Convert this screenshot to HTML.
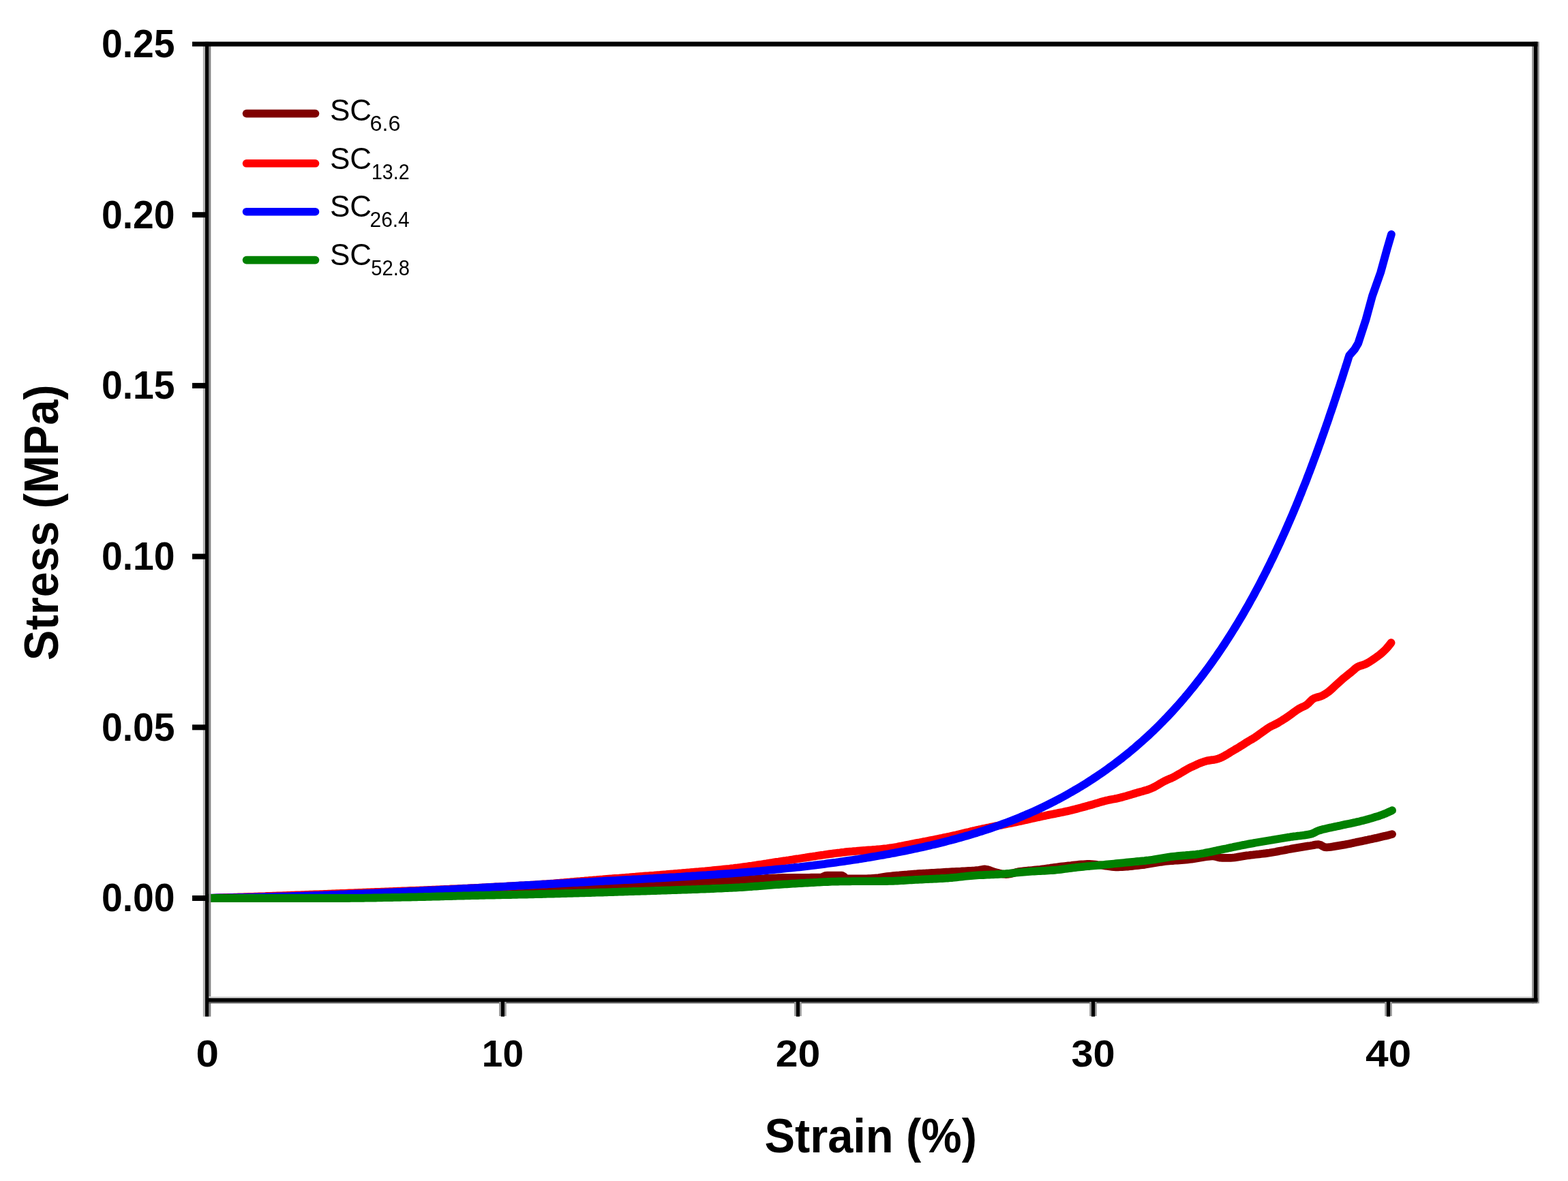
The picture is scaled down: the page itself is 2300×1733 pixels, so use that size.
<!DOCTYPE html>
<html><head><meta charset="utf-8"><title>Stress vs Strain</title>
<style>html,body{margin:0;padding:0;background:#fff;overflow:hidden;}svg{display:block;}</style>
</head><body>
<svg width="2300" height="1733" viewBox="0 0 2300 1733"><rect x="0" y="0" width="2300" height="1733" fill="#fff"/><g fill="none" stroke-width="11.8" stroke-linejoin="round" stroke-linecap="round"><path d="M305.0,1318.0 L308.0,1318.0 L311.0,1317.9 L314.0,1317.9 L317.0,1317.8 L320.0,1317.8 L323.0,1317.7 L326.0,1317.7 L329.0,1317.6 L332.0,1317.6 L335.0,1317.5 L338.0,1317.4 L341.0,1317.4 L344.0,1317.3 L347.0,1317.3 L350.0,1317.2 L353.0,1317.2 L356.0,1317.1 L359.0,1317.1 L362.0,1317.0 L365.0,1317.0 L368.0,1316.9 L371.0,1316.8 L374.0,1316.8 L377.0,1316.7 L380.0,1316.7 L383.0,1316.6 L386.0,1316.5 L389.0,1316.5 L392.0,1316.4 L395.0,1316.4 L398.0,1316.3 L401.0,1316.2 L404.0,1316.2 L407.0,1316.1 L410.0,1316.1 L413.0,1316.0 L416.0,1315.9 L419.0,1315.9 L422.0,1315.8 L425.0,1315.7 L428.0,1315.7 L431.0,1315.6 L434.0,1315.5 L437.0,1315.5 L440.0,1315.4 L443.0,1315.3 L446.0,1315.3 L449.0,1315.2 L452.0,1315.1 L455.0,1315.1 L458.0,1315.0 L461.0,1314.9 L464.0,1314.9 L467.0,1314.8 L470.0,1314.7 L473.0,1314.6 L476.0,1314.6 L479.0,1314.5 L482.0,1314.4 L485.0,1314.4 L488.0,1314.3 L491.0,1314.2 L494.0,1314.1 L497.0,1314.1 L500.0,1314.0 L503.0,1313.9 L506.0,1313.9 L509.0,1313.8 L512.0,1313.7 L515.0,1313.6 L518.0,1313.6 L521.0,1313.5 L524.0,1313.4 L527.0,1313.3 L530.0,1313.2 L533.0,1313.2 L536.0,1313.1 L539.0,1313.0 L542.0,1312.9 L545.0,1312.8 L548.0,1312.8 L551.0,1312.7 L554.0,1312.6 L557.0,1312.5 L560.0,1312.4 L563.0,1312.3 L566.0,1312.3 L569.0,1312.2 L572.0,1312.1 L575.0,1312.0 L578.0,1311.9 L581.0,1311.8 L584.0,1311.7 L587.0,1311.6 L590.0,1311.6 L593.0,1311.5 L596.0,1311.4 L599.0,1311.3 L602.0,1311.2 L605.0,1311.1 L608.0,1311.0 L611.0,1310.9 L614.0,1310.8 L617.0,1310.7 L620.0,1310.6 L623.0,1310.5 L626.0,1310.4 L629.0,1310.4 L632.0,1310.3 L635.0,1310.2 L638.0,1310.1 L641.0,1310.0 L644.0,1309.9 L647.0,1309.8 L650.0,1309.7 L653.0,1309.6 L656.0,1309.5 L659.0,1309.4 L662.0,1309.3 L665.0,1309.2 L668.0,1309.1 L671.0,1309.0 L674.0,1308.9 L677.0,1308.8 L680.0,1308.7 L683.0,1308.6 L686.0,1308.5 L689.0,1308.4 L692.0,1308.3 L695.0,1308.2 L698.0,1308.1 L701.0,1308.0 L704.0,1307.9 L707.0,1307.8 L710.0,1307.7 L713.0,1307.5 L716.0,1307.4 L719.0,1307.3 L722.0,1307.2 L725.0,1307.1 L728.0,1307.0 L731.0,1306.9 L734.0,1306.8 L737.0,1306.7 L740.0,1306.6 L743.0,1306.4 L746.0,1306.3 L749.0,1306.2 L752.0,1306.1 L755.0,1306.0 L758.0,1305.9 L761.0,1305.7 L764.0,1305.6 L767.0,1305.5 L770.0,1305.4 L773.0,1305.3 L776.0,1305.2 L779.0,1305.0 L782.0,1304.9 L785.0,1304.8 L788.0,1304.7 L791.0,1304.5 L794.0,1304.4 L797.0,1304.3 L800.0,1304.2 L803.0,1304.1 L806.0,1303.9 L809.0,1303.8 L812.0,1303.7 L815.0,1303.6 L818.0,1303.4 L821.0,1303.3 L824.0,1303.2 L827.0,1303.1 L830.0,1302.9 L833.0,1302.8 L836.0,1302.7 L839.0,1302.5 L842.0,1302.4 L845.0,1302.3 L848.0,1302.2 L851.0,1302.0 L854.0,1301.9 L857.0,1301.8 L860.0,1301.7 L863.0,1301.5 L866.0,1301.4 L869.0,1301.3 L872.0,1301.1 L875.0,1301.0 L878.0,1300.9 L881.0,1300.8 L884.0,1300.6 L887.0,1300.5 L890.0,1300.4 L893.0,1300.2 L896.0,1300.1 L899.0,1300.0 L902.0,1299.9 L905.0,1299.7 L908.0,1299.6 L911.0,1299.5 L914.0,1299.3 L917.0,1299.2 L920.0,1299.1 L923.0,1299.0 L926.0,1298.8 L929.0,1298.7 L932.0,1298.6 L935.0,1298.4 L938.0,1298.3 L941.0,1298.2 L944.0,1298.0 L947.0,1297.9 L950.0,1297.8 L953.0,1297.7 L956.0,1297.5 L959.0,1297.4 L962.0,1297.3 L965.0,1297.1 L968.0,1297.0 L971.0,1296.9 L974.0,1296.7 L977.0,1296.6 L980.0,1296.5 L983.0,1296.3 L986.0,1296.2 L989.0,1296.1 L992.0,1295.9 L995.0,1295.8 L998.0,1295.6 L1001.0,1295.5 L1004.0,1295.4 L1007.0,1295.2 L1010.0,1295.1 L1013.0,1295.0 L1016.0,1294.8 L1019.0,1294.7 L1022.0,1294.5 L1025.0,1294.4 L1028.0,1294.3 L1031.0,1294.1 L1034.0,1294.0 L1037.0,1293.8 L1040.0,1293.7 L1043.0,1293.6 L1046.0,1293.4 L1049.0,1293.3 L1052.0,1293.1 L1055.0,1293.0 L1058.0,1292.8 L1061.0,1292.7 L1064.0,1292.5 L1067.0,1292.4 L1070.0,1292.2 L1073.0,1292.1 L1076.0,1291.9 L1079.0,1291.8 L1082.0,1291.6 L1085.0,1291.5 L1088.0,1291.3 L1091.0,1291.1 L1094.0,1290.9 L1097.0,1290.7 L1100.0,1290.5 L1103.0,1290.3 L1106.0,1290.1 L1109.0,1289.9 L1112.0,1289.7 L1115.0,1289.5 L1118.0,1289.3 L1121.0,1289.2 L1124.0,1289.0 L1127.0,1288.8 L1130.0,1288.7 L1133.0,1288.5 L1136.0,1288.4 L1139.0,1288.3 L1142.0,1288.2 L1145.0,1288.1 L1148.0,1288.0 L1151.0,1288.0 L1154.0,1287.9 L1157.0,1287.9 L1160.0,1287.9 L1163.0,1287.9 L1166.0,1287.9 L1169.0,1287.8 L1172.0,1287.8 L1175.0,1287.8 L1178.0,1287.8 L1181.0,1287.8 L1184.0,1287.8 L1187.0,1287.8 L1190.0,1287.7 L1193.0,1287.7 L1196.0,1287.7 L1199.0,1287.6 L1202.0,1287.6 L1205.0,1287.5 L1208.0,1286.3 L1211.0,1284.8 L1214.0,1284.6 L1217.0,1284.6 L1220.0,1284.6 L1223.0,1284.6 L1226.0,1284.6 L1229.0,1284.6 L1232.0,1284.6 L1235.0,1284.6 L1238.0,1286.3 L1241.0,1289.5 L1244.0,1289.5 L1247.0,1289.5 L1250.0,1289.5 L1253.0,1289.5 L1256.0,1289.5 L1259.0,1289.5 L1262.0,1289.5 L1265.0,1289.5 L1268.0,1289.4 L1271.0,1289.3 L1274.0,1289.2 L1277.0,1289.1 L1280.0,1288.9 L1283.0,1288.7 L1286.0,1288.5 L1289.0,1288.1 L1292.0,1287.6 L1295.0,1287.1 L1298.0,1286.6 L1301.0,1286.2 L1304.0,1285.8 L1307.0,1285.5 L1310.0,1285.2 L1313.0,1284.9 L1316.0,1284.6 L1319.0,1284.4 L1322.0,1284.1 L1325.0,1283.8 L1328.0,1283.6 L1331.0,1283.4 L1334.0,1283.1 L1337.0,1282.9 L1340.0,1282.7 L1343.0,1282.5 L1346.0,1282.2 L1349.0,1282.0 L1352.0,1281.8 L1355.0,1281.6 L1358.0,1281.5 L1361.0,1281.3 L1364.0,1281.1 L1367.0,1280.9 L1370.0,1280.8 L1373.0,1280.6 L1376.0,1280.4 L1379.0,1280.3 L1382.0,1280.1 L1385.0,1279.9 L1388.0,1279.7 L1391.0,1279.6 L1394.0,1279.4 L1397.0,1279.2 L1400.0,1279.1 L1403.0,1278.9 L1406.0,1278.8 L1409.0,1278.7 L1412.0,1278.5 L1415.0,1278.4 L1418.0,1278.2 L1421.0,1278.0 L1424.0,1277.8 L1427.0,1277.6 L1430.0,1277.4 L1433.0,1277.1 L1436.0,1276.9 L1439.0,1276.3 L1442.0,1275.7 L1445.0,1275.5 L1448.0,1276.0 L1451.0,1276.9 L1454.0,1278.0 L1457.0,1279.1 L1460.0,1280.0 L1463.0,1280.7 L1466.0,1281.5 L1469.0,1282.2 L1472.0,1282.7 L1475.0,1283.0 L1478.0,1282.9 L1481.0,1282.5 L1484.0,1281.7 L1487.0,1280.9 L1490.0,1280.1 L1493.0,1279.4 L1496.0,1278.9 L1499.0,1278.5 L1502.0,1278.1 L1505.0,1277.8 L1508.0,1277.5 L1511.0,1277.3 L1514.0,1277.0 L1517.0,1276.7 L1520.0,1276.4 L1523.0,1276.1 L1526.0,1275.8 L1529.0,1275.4 L1532.0,1275.0 L1535.0,1274.6 L1538.0,1274.2 L1541.0,1273.7 L1544.0,1273.3 L1547.0,1272.9 L1550.0,1272.5 L1553.0,1272.1 L1556.0,1271.7 L1559.0,1271.3 L1562.0,1271.0 L1565.0,1270.7 L1568.0,1270.3 L1571.0,1270.0 L1574.0,1269.6 L1577.0,1269.3 L1580.0,1269.0 L1583.0,1268.7 L1586.0,1268.5 L1589.0,1268.3 L1592.0,1268.1 L1595.0,1268.0 L1598.0,1268.0 L1601.0,1268.1 L1604.0,1268.4 L1607.0,1268.7 L1610.0,1269.1 L1613.0,1269.4 L1616.0,1269.7 L1619.0,1270.1 L1622.0,1270.6 L1625.0,1271.0 L1628.0,1271.5 L1631.0,1271.8 L1634.0,1272.1 L1637.0,1272.3 L1640.0,1272.3 L1643.0,1272.2 L1646.0,1272.1 L1649.0,1271.9 L1652.0,1271.7 L1655.0,1271.5 L1658.0,1271.2 L1661.0,1270.8 L1664.0,1270.5 L1667.0,1270.2 L1670.0,1269.8 L1673.0,1269.5 L1676.0,1269.2 L1679.0,1268.8 L1682.0,1268.3 L1685.0,1267.8 L1688.0,1267.3 L1691.0,1266.8 L1694.0,1266.3 L1697.0,1265.8 L1700.0,1265.3 L1703.0,1264.8 L1706.0,1264.4 L1709.0,1264.0 L1712.0,1263.7 L1715.0,1263.4 L1718.0,1263.2 L1721.0,1263.0 L1724.0,1262.7 L1727.0,1262.5 L1730.0,1262.3 L1733.0,1262.1 L1736.0,1261.9 L1739.0,1261.6 L1742.0,1261.3 L1745.0,1261.0 L1748.0,1260.7 L1751.0,1260.2 L1754.0,1259.7 L1757.0,1259.2 L1760.0,1258.7 L1763.0,1258.2 L1766.0,1257.7 L1769.0,1257.2 L1772.0,1256.9 L1775.0,1256.6 L1778.0,1256.4 L1781.0,1256.5 L1784.0,1257.1 L1787.0,1258.0 L1790.0,1258.7 L1793.0,1258.8 L1796.0,1258.8 L1799.0,1258.8 L1802.0,1258.8 L1805.0,1258.8 L1808.0,1258.6 L1811.0,1258.3 L1814.0,1257.9 L1817.0,1257.4 L1820.0,1256.9 L1823.0,1256.4 L1826.0,1255.9 L1829.0,1255.4 L1832.0,1255.1 L1835.0,1254.7 L1838.0,1254.4 L1841.0,1254.0 L1844.0,1253.7 L1847.0,1253.4 L1850.0,1253.0 L1853.0,1252.7 L1856.0,1252.3 L1859.0,1251.9 L1862.0,1251.5 L1865.0,1251.0 L1868.0,1250.5 L1871.0,1250.0 L1874.0,1249.4 L1877.0,1248.8 L1880.0,1248.2 L1883.0,1247.7 L1886.0,1247.1 L1889.0,1246.5 L1892.0,1246.0 L1895.0,1245.4 L1898.0,1244.9 L1901.0,1244.4 L1904.0,1243.9 L1907.0,1243.4 L1910.0,1242.9 L1913.0,1242.4 L1916.0,1241.9 L1919.0,1241.4 L1922.0,1241.0 L1925.0,1240.5 L1928.0,1239.9 L1931.0,1239.3 L1934.0,1239.1 L1937.0,1239.9 L1940.0,1241.7 L1943.0,1243.1 L1946.0,1243.3 L1949.0,1243.1 L1952.0,1242.8 L1955.0,1242.4 L1958.0,1241.9 L1961.0,1241.4 L1964.0,1240.9 L1967.0,1240.4 L1970.0,1239.9 L1973.0,1239.4 L1976.0,1238.8 L1979.0,1238.2 L1982.0,1237.6 L1985.0,1236.9 L1988.0,1236.3 L1991.0,1235.6 L1994.0,1235.0 L1997.0,1234.4 L2000.0,1233.7 L2003.0,1233.1 L2006.0,1232.5 L2009.0,1231.8 L2012.0,1231.2 L2015.0,1230.5 L2018.0,1229.9 L2021.0,1229.2 L2024.0,1228.5 L2027.0,1227.8 L2030.0,1227.1 L2033.0,1226.4 L2036.0,1225.7 L2039.0,1224.9 L2042.0,1224.1 L2042.1,1224.1" stroke="#800000"/><path d="M305.0,1318.0 L308.0,1317.9 L311.0,1317.8 L314.0,1317.7 L317.0,1317.6 L320.0,1317.5 L323.0,1317.4 L326.0,1317.3 L329.0,1317.2 L332.0,1317.1 L335.0,1317.0 L338.0,1316.9 L341.0,1316.8 L344.0,1316.7 L347.0,1316.6 L350.0,1316.5 L353.0,1316.4 L356.0,1316.3 L359.0,1316.2 L362.0,1316.1 L365.0,1316.0 L368.0,1315.9 L371.0,1315.8 L374.0,1315.7 L377.0,1315.6 L380.0,1315.5 L383.0,1315.4 L386.0,1315.3 L389.0,1315.2 L392.0,1315.0 L395.0,1314.9 L398.0,1314.8 L401.0,1314.7 L404.0,1314.6 L407.0,1314.5 L410.0,1314.4 L413.0,1314.3 L416.0,1314.2 L419.0,1314.1 L422.0,1314.0 L425.0,1313.9 L428.0,1313.7 L431.0,1313.6 L434.0,1313.5 L437.0,1313.4 L440.0,1313.3 L443.0,1313.2 L446.0,1313.1 L449.0,1313.0 L452.0,1312.9 L455.0,1312.7 L458.0,1312.6 L461.0,1312.5 L464.0,1312.4 L467.0,1312.3 L470.0,1312.2 L473.0,1312.1 L476.0,1311.9 L479.0,1311.8 L482.0,1311.7 L485.0,1311.6 L488.0,1311.5 L491.0,1311.4 L494.0,1311.2 L497.0,1311.1 L500.0,1311.0 L503.0,1310.9 L506.0,1310.8 L509.0,1310.6 L512.0,1310.5 L515.0,1310.4 L518.0,1310.3 L521.0,1310.2 L524.0,1310.1 L527.0,1309.9 L530.0,1309.8 L533.0,1309.7 L536.0,1309.6 L539.0,1309.5 L542.0,1309.4 L545.0,1309.2 L548.0,1309.1 L551.0,1309.0 L554.0,1308.9 L557.0,1308.8 L560.0,1308.7 L563.0,1308.6 L566.0,1308.4 L569.0,1308.3 L572.0,1308.2 L575.0,1308.1 L578.0,1308.0 L581.0,1307.9 L584.0,1307.7 L587.0,1307.6 L590.0,1307.5 L593.0,1307.4 L596.0,1307.3 L599.0,1307.1 L602.0,1307.0 L605.0,1306.9 L608.0,1306.8 L611.0,1306.7 L614.0,1306.6 L617.0,1306.4 L620.0,1306.3 L623.0,1306.2 L626.0,1306.1 L629.0,1305.9 L632.0,1305.8 L635.0,1305.7 L638.0,1305.6 L641.0,1305.4 L644.0,1305.3 L647.0,1305.2 L650.0,1305.1 L653.0,1304.9 L656.0,1304.8 L659.0,1304.7 L662.0,1304.5 L665.0,1304.4 L668.0,1304.3 L671.0,1304.2 L674.0,1304.0 L677.0,1303.9 L680.0,1303.7 L683.0,1303.6 L686.0,1303.5 L689.0,1303.3 L692.0,1303.2 L695.0,1303.1 L698.0,1302.9 L701.0,1302.8 L704.0,1302.6 L707.0,1302.5 L710.0,1302.3 L713.0,1302.2 L716.0,1302.0 L719.0,1301.9 L722.0,1301.7 L725.0,1301.6 L728.0,1301.4 L731.0,1301.3 L734.0,1301.1 L737.0,1301.0 L740.0,1300.8 L743.0,1300.7 L746.0,1300.5 L749.0,1300.3 L752.0,1300.2 L755.0,1300.0 L758.0,1299.8 L761.0,1299.7 L764.0,1299.5 L767.0,1299.3 L770.0,1299.2 L773.0,1299.0 L776.0,1298.8 L779.0,1298.6 L782.0,1298.5 L785.0,1298.3 L788.0,1298.1 L791.0,1297.9 L794.0,1297.7 L797.0,1297.5 L800.0,1297.3 L803.0,1297.1 L806.0,1296.8 L809.0,1296.6 L812.0,1296.4 L815.0,1296.1 L818.0,1295.9 L821.0,1295.7 L824.0,1295.4 L827.0,1295.2 L830.0,1294.9 L833.0,1294.6 L836.0,1294.4 L839.0,1294.1 L842.0,1293.9 L845.0,1293.6 L848.0,1293.3 L851.0,1293.1 L854.0,1292.8 L857.0,1292.6 L860.0,1292.3 L863.0,1292.1 L866.0,1291.8 L869.0,1291.6 L872.0,1291.3 L875.0,1291.1 L878.0,1290.8 L881.0,1290.6 L884.0,1290.4 L887.0,1290.1 L890.0,1289.9 L893.0,1289.7 L896.0,1289.5 L899.0,1289.2 L902.0,1289.0 L905.0,1288.8 L908.0,1288.6 L911.0,1288.3 L914.0,1288.1 L917.0,1287.9 L920.0,1287.6 L923.0,1287.4 L926.0,1287.1 L929.0,1286.9 L932.0,1286.7 L935.0,1286.4 L938.0,1286.2 L941.0,1286.0 L944.0,1285.7 L947.0,1285.5 L950.0,1285.3 L953.0,1285.0 L956.0,1284.8 L959.0,1284.6 L962.0,1284.3 L965.0,1284.1 L968.0,1283.9 L971.0,1283.6 L974.0,1283.4 L977.0,1283.2 L980.0,1282.9 L983.0,1282.7 L986.0,1282.5 L989.0,1282.2 L992.0,1282.0 L995.0,1281.7 L998.0,1281.5 L1001.0,1281.2 L1004.0,1281.0 L1007.0,1280.7 L1010.0,1280.5 L1013.0,1280.2 L1016.0,1280.0 L1019.0,1279.7 L1022.0,1279.4 L1025.0,1279.2 L1028.0,1278.9 L1031.0,1278.6 L1034.0,1278.4 L1037.0,1278.1 L1040.0,1277.8 L1043.0,1277.5 L1046.0,1277.2 L1049.0,1276.9 L1052.0,1276.6 L1055.0,1276.3 L1058.0,1276.0 L1061.0,1275.7 L1064.0,1275.4 L1067.0,1275.1 L1070.0,1274.8 L1073.0,1274.4 L1076.0,1274.1 L1079.0,1273.7 L1082.0,1273.4 L1085.0,1273.0 L1088.0,1272.6 L1091.0,1272.2 L1094.0,1271.8 L1097.0,1271.4 L1100.0,1270.9 L1103.0,1270.5 L1106.0,1270.0 L1109.0,1269.6 L1112.0,1269.1 L1115.0,1268.7 L1118.0,1268.2 L1121.0,1267.7 L1124.0,1267.3 L1127.0,1266.8 L1130.0,1266.3 L1133.0,1265.9 L1136.0,1265.4 L1139.0,1264.9 L1142.0,1264.5 L1145.0,1264.0 L1148.0,1263.6 L1151.0,1263.2 L1154.0,1262.7 L1157.0,1262.3 L1160.0,1261.8 L1163.0,1261.4 L1166.0,1260.9 L1169.0,1260.4 L1172.0,1260.0 L1175.0,1259.5 L1178.0,1259.0 L1181.0,1258.6 L1184.0,1258.1 L1187.0,1257.6 L1190.0,1257.2 L1193.0,1256.7 L1196.0,1256.3 L1199.0,1255.8 L1202.0,1255.3 L1205.0,1254.9 L1208.0,1254.5 L1211.0,1254.0 L1214.0,1253.6 L1217.0,1253.2 L1220.0,1252.8 L1223.0,1252.4 L1226.0,1252.0 L1229.0,1251.6 L1232.0,1251.3 L1235.0,1250.9 L1238.0,1250.6 L1241.0,1250.2 L1244.0,1249.9 L1247.0,1249.6 L1250.0,1249.4 L1253.0,1249.1 L1256.0,1248.9 L1259.0,1248.6 L1262.0,1248.4 L1265.0,1248.2 L1268.0,1248.0 L1271.0,1247.7 L1274.0,1247.5 L1277.0,1247.3 L1280.0,1247.0 L1283.0,1246.8 L1286.0,1246.5 L1289.0,1246.3 L1292.0,1246.0 L1295.0,1245.7 L1298.0,1245.3 L1301.0,1245.0 L1304.0,1244.6 L1307.0,1244.2 L1310.0,1243.7 L1313.0,1243.2 L1316.0,1242.7 L1319.0,1242.1 L1322.0,1241.6 L1325.0,1241.0 L1328.0,1240.4 L1331.0,1239.8 L1334.0,1239.2 L1337.0,1238.6 L1340.0,1238.0 L1343.0,1237.4 L1346.0,1236.8 L1349.0,1236.3 L1352.0,1235.7 L1355.0,1235.1 L1358.0,1234.6 L1361.0,1234.0 L1364.0,1233.4 L1367.0,1232.8 L1370.0,1232.2 L1373.0,1231.6 L1376.0,1231.0 L1379.0,1230.4 L1382.0,1229.8 L1385.0,1229.1 L1388.0,1228.5 L1391.0,1227.9 L1394.0,1227.2 L1397.0,1226.5 L1400.0,1225.9 L1403.0,1225.2 L1406.0,1224.4 L1409.0,1223.7 L1412.0,1223.0 L1415.0,1222.3 L1418.0,1221.6 L1421.0,1220.9 L1424.0,1220.1 L1427.0,1219.4 L1430.0,1218.8 L1433.0,1218.1 L1436.0,1217.4 L1439.0,1216.8 L1442.0,1216.1 L1445.0,1215.5 L1448.0,1214.9 L1451.0,1214.3 L1454.0,1213.6 L1457.0,1213.0 L1460.0,1212.4 L1463.0,1211.8 L1466.0,1211.2 L1469.0,1210.6 L1472.0,1210.0 L1475.0,1209.4 L1478.0,1208.8 L1481.0,1208.2 L1484.0,1207.6 L1487.0,1207.0 L1490.0,1206.4 L1493.0,1205.8 L1496.0,1205.1 L1499.0,1204.5 L1502.0,1203.8 L1505.0,1203.1 L1508.0,1202.5 L1511.0,1201.8 L1514.0,1201.1 L1517.0,1200.4 L1520.0,1199.8 L1523.0,1199.1 L1526.0,1198.5 L1529.0,1197.8 L1532.0,1197.2 L1535.0,1196.5 L1538.0,1195.9 L1541.0,1195.3 L1544.0,1194.7 L1547.0,1194.1 L1550.0,1193.5 L1553.0,1192.9 L1556.0,1192.3 L1559.0,1191.7 L1562.0,1191.0 L1565.0,1190.4 L1568.0,1189.7 L1571.0,1189.0 L1574.0,1188.2 L1577.0,1187.5 L1580.0,1186.7 L1583.0,1185.9 L1586.0,1185.1 L1589.0,1184.3 L1592.0,1183.5 L1595.0,1182.6 L1598.0,1181.8 L1601.0,1181.0 L1604.0,1180.1 L1607.0,1179.2 L1610.0,1178.3 L1613.0,1177.4 L1616.0,1176.5 L1619.0,1175.7 L1622.0,1174.9 L1625.0,1174.3 L1628.0,1173.6 L1631.0,1173.0 L1634.0,1172.5 L1637.0,1171.9 L1640.0,1171.2 L1643.0,1170.5 L1646.0,1169.7 L1649.0,1168.9 L1652.0,1168.1 L1655.0,1167.2 L1658.0,1166.3 L1661.0,1165.4 L1664.0,1164.5 L1667.0,1163.6 L1670.0,1162.7 L1673.0,1161.9 L1676.0,1161.1 L1679.0,1160.2 L1682.0,1159.3 L1685.0,1158.3 L1688.0,1157.2 L1691.0,1155.9 L1694.0,1154.4 L1697.0,1152.7 L1700.0,1150.9 L1703.0,1149.1 L1706.0,1147.4 L1709.0,1145.8 L1712.0,1144.4 L1715.0,1143.1 L1718.0,1141.9 L1721.0,1140.5 L1724.0,1138.9 L1727.0,1137.2 L1730.0,1135.5 L1733.0,1133.7 L1736.0,1131.9 L1739.0,1130.1 L1742.0,1128.4 L1745.0,1126.8 L1748.0,1125.3 L1751.0,1124.0 L1754.0,1122.6 L1757.0,1121.2 L1760.0,1119.9 L1763.0,1118.8 L1766.0,1117.7 L1769.0,1116.8 L1772.0,1116.1 L1775.0,1115.6 L1778.0,1115.2 L1781.0,1114.8 L1784.0,1114.2 L1787.0,1113.3 L1790.0,1112.2 L1793.0,1110.8 L1796.0,1109.2 L1799.0,1107.5 L1802.0,1105.7 L1805.0,1103.8 L1808.0,1102.0 L1811.0,1100.2 L1814.0,1098.5 L1817.0,1096.7 L1820.0,1094.8 L1823.0,1092.9 L1826.0,1091.0 L1829.0,1089.1 L1832.0,1087.3 L1835.0,1085.5 L1838.0,1083.8 L1841.0,1081.9 L1844.0,1079.8 L1847.0,1077.7 L1850.0,1075.5 L1853.0,1073.4 L1856.0,1071.2 L1859.0,1069.1 L1862.0,1067.1 L1865.0,1065.5 L1868.0,1064.1 L1871.0,1062.6 L1874.0,1061.1 L1877.0,1059.3 L1880.0,1057.5 L1883.0,1055.6 L1886.0,1053.7 L1889.0,1051.6 L1892.0,1049.4 L1895.0,1047.3 L1898.0,1045.1 L1901.0,1042.9 L1904.0,1040.9 L1907.0,1039.1 L1910.0,1037.7 L1913.0,1036.4 L1916.0,1034.8 L1919.0,1032.3 L1922.0,1029.2 L1925.0,1026.3 L1928.0,1024.5 L1931.0,1023.5 L1934.0,1022.7 L1937.0,1021.9 L1940.0,1020.6 L1943.0,1018.9 L1946.0,1017.0 L1949.0,1014.9 L1952.0,1012.4 L1955.0,1009.6 L1958.0,1006.8 L1961.0,1004.0 L1964.0,1001.3 L1967.0,998.6 L1970.0,995.9 L1973.0,993.5 L1976.0,991.1 L1979.0,988.7 L1982.0,986.3 L1985.0,983.7 L1988.0,981.0 L1991.0,978.8 L1994.0,977.4 L1997.0,976.5 L2000.0,975.6 L2003.0,974.4 L2006.0,972.9 L2009.0,971.2 L2012.0,969.2 L2015.0,967.1 L2018.0,965.0 L2021.0,962.9 L2024.0,960.6 L2027.0,958.1 L2030.0,955.4 L2033.0,952.4 L2036.0,949.0 L2039.0,945.3 L2040.6,943.2" stroke="#ff0000"/><path d="M304.9,1317.7 L309.1,1317.6 L313.2,1317.6 L317.4,1317.5 L321.5,1317.5 L325.6,1317.4 L329.8,1317.3 L333.9,1317.3 L338.1,1317.2 L342.2,1317.1 L346.4,1317.1 L350.5,1317.0 L354.7,1316.9 L358.8,1316.8 L363.0,1316.7 L367.1,1316.6 L371.2,1316.6 L375.4,1316.5 L379.5,1316.4 L383.7,1316.3 L387.8,1316.2 L392.0,1316.1 L396.1,1316.0 L400.2,1315.8 L404.4,1315.7 L408.5,1315.6 L412.7,1315.5 L416.8,1315.4 L420.9,1315.3 L425.1,1315.1 L429.2,1315.0 L433.4,1314.9 L437.5,1314.7 L441.6,1314.6 L445.8,1314.5 L449.9,1314.3 L454.1,1314.2 L458.2,1314.1 L462.3,1313.9 L466.5,1313.8 L470.6,1313.6 L474.7,1313.5 L478.9,1313.3 L483.0,1313.2 L487.1,1313.0 L491.3,1312.9 L495.4,1312.7 L499.5,1312.5 L503.7,1312.4 L507.8,1312.2 L511.9,1312.0 L516.1,1311.9 L520.2,1311.7 L524.3,1311.5 L528.5,1311.3 L532.6,1311.2 L536.7,1311.0 L540.9,1310.8 L545.0,1310.6 L549.1,1310.5 L553.3,1310.3 L557.4,1310.1 L561.5,1309.9 L565.7,1309.7 L569.8,1309.5 L573.9,1309.3 L578.1,1309.1 L582.2,1308.9 L586.3,1308.8 L590.5,1308.6 L594.6,1308.4 L598.7,1308.2 L602.8,1308.0 L607.0,1307.8 L611.1,1307.6 L615.2,1307.4 L619.4,1307.1 L623.5,1306.9 L627.6,1306.7 L631.8,1306.5 L635.9,1306.3 L640.0,1306.1 L644.1,1305.9 L648.3,1305.7 L652.4,1305.5 L656.5,1305.3 L660.7,1305.1 L664.8,1304.8 L668.9,1304.6 L673.0,1304.4 L677.2,1304.2 L681.3,1304.0 L685.4,1303.8 L689.6,1303.5 L693.7,1303.3 L697.8,1303.1 L701.9,1302.9 L706.1,1302.6 L710.2,1302.4 L714.3,1302.2 L718.5,1302.0 L722.6,1301.8 L726.7,1301.5 L730.8,1301.3 L735.0,1301.1 L739.1,1300.9 L743.2,1300.6 L747.4,1300.4 L751.5,1300.2 L755.6,1300.0 L759.7,1299.7 L763.9,1299.5 L768.0,1299.3 L772.1,1299.0 L776.3,1298.8 L780.4,1298.6 L784.5,1298.4 L788.6,1298.1 L792.8,1297.9 L796.9,1297.7 L801.0,1297.5 L805.2,1297.2 L809.3,1297.0 L813.4,1296.8 L817.5,1296.5 L821.7,1296.3 L825.8,1296.1 L829.9,1295.9 L834.1,1295.6 L838.2,1295.4 L842.3,1295.2 L846.5,1295.0 L850.6,1294.7 L854.7,1294.5 L858.8,1294.3 L863.0,1294.1 L867.1,1293.8 L871.2,1293.6 L875.4,1293.4 L879.5,1293.2 L883.6,1293.0 L887.8,1292.7 L891.9,1292.5 L896.0,1292.3 L900.2,1292.1 L904.3,1291.9 L908.4,1291.6 L912.5,1291.4 L916.7,1291.2 L920.8,1291.0 L924.9,1290.8 L929.1,1290.5 L933.2,1290.3 L937.3,1290.1 L941.5,1289.9 L945.6,1289.6 L949.7,1289.4 L953.9,1289.2 L958.0,1289.0 L962.1,1288.7 L966.3,1288.5 L970.4,1288.3 L974.5,1288.0 L978.7,1287.8 L982.8,1287.5 L986.9,1287.3 L991.1,1287.1 L995.2,1286.8 L999.3,1286.6 L1003.5,1286.3 L1007.6,1286.0 L1011.7,1285.8 L1015.8,1285.5 L1020.0,1285.3 L1024.1,1285.0 L1028.2,1284.7 L1032.4,1284.4 L1036.5,1284.2 L1040.6,1283.9 L1044.7,1283.6 L1048.9,1283.3 L1053.0,1283.0 L1057.1,1282.7 L1061.3,1282.4 L1065.4,1282.1 L1069.5,1281.8 L1073.6,1281.5 L1077.8,1281.2 L1081.9,1280.8 L1086.0,1280.5 L1090.1,1280.2 L1094.3,1279.8 L1098.4,1279.5 L1102.5,1279.1 L1106.6,1278.8 L1110.8,1278.4 L1114.9,1278.1 L1119.0,1277.7 L1123.1,1277.3 L1127.2,1276.9 L1131.4,1276.5 L1135.5,1276.1 L1139.6,1275.7 L1143.7,1275.3 L1147.8,1274.9 L1152.0,1274.5 L1156.1,1274.0 L1160.2,1273.6 L1164.3,1273.2 L1168.4,1272.7 L1172.5,1272.3 L1176.6,1271.8 L1180.8,1271.3 L1184.9,1270.8 L1189.0,1270.3 L1193.1,1269.9 L1197.2,1269.3 L1201.3,1268.8 L1205.4,1268.3 L1209.5,1267.8 L1213.6,1267.2 L1217.7,1266.7 L1221.9,1266.1 L1226.0,1265.6 L1230.1,1265.0 L1234.2,1264.4 L1238.3,1263.8 L1242.4,1263.2 L1246.5,1262.6 L1250.6,1262.0 L1254.7,1261.4 L1258.8,1260.8 L1262.9,1260.1 L1267.0,1259.5 L1271.1,1258.8 L1275.2,1258.1 L1279.2,1257.4 L1283.3,1256.7 L1287.4,1256.0 L1291.5,1255.3 L1295.6,1254.6 L1299.7,1253.8 L1303.8,1253.1 L1307.9,1252.3 L1312.0,1251.6 L1316.0,1250.8 L1320.1,1250.0 L1324.2,1249.2 L1328.3,1248.4 L1332.4,1247.5 L1336.4,1246.7 L1340.5,1245.8 L1344.6,1245.0 L1348.6,1244.1 L1352.7,1243.2 L1356.8,1242.3 L1360.8,1241.3 L1364.9,1240.4 L1368.9,1239.4 L1373.0,1238.5 L1377.0,1237.5 L1381.0,1236.5 L1385.1,1235.5 L1389.1,1234.4 L1393.1,1233.4 L1397.1,1232.3 L1401.1,1231.2 L1405.1,1230.1 L1409.1,1229.0 L1413.1,1227.9 L1417.1,1226.7 L1421.1,1225.6 L1425.1,1224.4 L1429.0,1223.2 L1433.0,1222.0 L1436.9,1220.7 L1440.9,1219.5 L1444.8,1218.2 L1448.8,1216.9 L1452.7,1215.6 L1456.6,1214.2 L1460.5,1212.8 L1464.4,1211.5 L1468.3,1210.1 L1472.2,1208.6 L1476.0,1207.2 L1479.9,1205.7 L1483.8,1204.2 L1487.6,1202.7 L1491.4,1201.2 L1495.3,1199.6 L1499.1,1198.0 L1502.9,1196.4 L1506.7,1194.8 L1510.5,1193.2 L1514.2,1191.5 L1518.0,1189.8 L1521.7,1188.1 L1525.5,1186.3 L1529.2,1184.6 L1532.9,1182.8 L1536.6,1180.9 L1540.3,1179.1 L1544.0,1177.2 L1547.7,1175.4 L1551.3,1173.4 L1555.0,1171.5 L1558.6,1169.6 L1562.2,1167.6 L1565.8,1165.6 L1569.4,1163.5 L1573.0,1161.5 L1576.5,1159.4 L1580.1,1157.3 L1583.6,1155.2 L1587.2,1153.1 L1590.7,1150.9 L1594.2,1148.7 L1597.6,1146.5 L1601.1,1144.3 L1604.5,1142.0 L1608.0,1139.7 L1611.4,1137.4 L1614.8,1135.1 L1618.2,1132.8 L1621.5,1130.4 L1624.9,1128.0 L1628.2,1125.6 L1631.5,1123.2 L1634.9,1120.7 L1638.1,1118.3 L1641.4,1115.8 L1644.7,1113.3 L1647.9,1110.7 L1651.1,1108.2 L1654.3,1105.6 L1657.5,1103.0 L1660.7,1100.3 L1663.8,1097.7 L1666.9,1095.0 L1670.0,1092.3 L1673.1,1089.6 L1676.2,1086.9 L1679.2,1084.2 L1682.3,1081.4 L1685.3,1078.6 L1688.3,1075.8 L1691.3,1073.0 L1694.2,1070.1 L1697.2,1067.2 L1700.1,1064.3 L1703.0,1061.4 L1705.9,1058.5 L1708.7,1055.5 L1711.6,1052.6 L1714.4,1049.6 L1717.2,1046.6 L1720.0,1043.6 L1722.8,1040.5 L1725.5,1037.5 L1728.3,1034.4 L1731.0,1031.3 L1733.7,1028.2 L1736.4,1025.1 L1739.0,1021.9 L1741.7,1018.8 L1744.3,1015.6 L1746.9,1012.4 L1749.5,1009.2 L1752.1,1006.0 L1754.7,1002.7 L1757.2,999.5 L1759.8,996.2 L1762.3,992.9 L1764.8,989.6 L1767.3,986.3 L1769.7,983.0 L1772.2,979.7 L1774.6,976.3 L1777.0,973.0 L1779.4,969.6 L1781.8,966.2 L1784.2,962.8 L1786.5,959.4 L1788.9,955.9 L1791.2,952.5 L1793.5,949.0 L1795.8,945.6 L1798.1,942.1 L1800.3,938.6 L1802.6,935.1 L1804.8,931.6 L1807.0,928.1 L1809.2,924.5 L1811.4,921.0 L1813.6,917.4 L1815.8,913.9 L1817.9,910.3 L1820.0,906.7 L1822.2,903.1 L1824.3,899.5 L1826.3,895.9 L1828.4,892.3 L1830.5,888.7 L1832.5,885.1 L1834.5,881.4 L1836.6,877.8 L1838.6,874.1 L1840.6,870.4 L1842.5,866.8 L1844.5,863.1 L1846.5,859.4 L1848.4,855.7 L1850.3,852.0 L1852.2,848.3 L1854.1,844.6 L1856.0,840.9 L1857.9,837.2 L1859.7,833.4 L1861.6,829.7 L1863.4,826.0 L1865.2,822.2 L1867.1,818.5 L1868.9,814.7 L1870.6,811.0 L1872.4,807.2 L1874.2,803.4 L1875.9,799.7 L1877.7,795.9 L1879.4,792.1 L1881.1,788.3 L1882.8,784.6 L1884.5,780.8 L1886.2,777.0 L1887.9,773.2 L1889.5,769.4 L1891.2,765.6 L1892.8,761.8 L1894.5,758.0 L1896.1,754.2 L1897.7,750.4 L1899.3,746.5 L1900.9,742.7 L1902.5,738.9 L1904.0,735.1 L1905.6,731.2 L1907.1,727.4 L1908.7,723.6 L1910.2,719.7 L1911.7,715.9 L1913.2,712.1 L1914.8,708.2 L1916.3,704.4 L1917.7,700.5 L1919.2,696.7 L1920.7,692.8 L1922.2,688.9 L1923.6,685.1 L1925.1,681.2 L1926.5,677.3 L1927.9,673.5 L1929.4,669.6 L1930.8,665.7 L1932.2,661.9 L1933.6,658.0 L1935.0,654.1 L1936.4,650.2 L1937.8,646.4 L1939.1,642.5 L1940.5,638.6 L1941.9,634.7 L1943.2,630.8 L1944.6,626.9 L1945.9,623.0 L1947.3,619.2 L1948.6,615.3 L1949.9,611.4 L1951.2,607.5 L1952.6,603.6 L1953.9,599.7 L1955.2,595.8 L1956.5,591.9 L1957.8,588.0 L1959.1,584.1 L1960.4,580.2 L1961.6,576.3 L1962.9,572.4 L1964.2,568.5 L1965.5,564.6 L1966.7,560.7 L1968.0,556.8 L1969.2,552.9 L1970.5,548.9 L1971.7,545.0 L1973.0,541.1 L1974.2,537.2 L1975.5,533.3 L1976.7,529.4 L1977.9,525.5 L1979.2,521.6 L1987.0,512.6 L1992.2,503.9 L2003.5,469.1 L2013.0,434.3 L2025.2,399.6 L2034.8,364.8 L2040.9,343.9" stroke="#0000ff"/><path d="M305.0,1318.0 L308.0,1318.0 L311.0,1318.0 L314.0,1318.0 L317.0,1318.0 L320.0,1318.0 L323.0,1318.0 L326.0,1318.0 L329.0,1318.0 L332.0,1318.0 L335.0,1318.0 L338.0,1318.0 L341.0,1318.0 L344.0,1318.0 L347.0,1318.0 L350.0,1318.0 L353.0,1318.0 L356.0,1318.0 L359.0,1318.0 L362.0,1318.0 L365.0,1318.0 L368.0,1318.0 L371.0,1318.0 L374.0,1318.0 L377.0,1318.0 L380.0,1318.0 L383.0,1318.0 L386.0,1318.0 L389.0,1318.0 L392.0,1318.0 L395.0,1318.0 L398.0,1318.0 L401.0,1318.0 L404.0,1318.0 L407.0,1318.0 L410.0,1318.0 L413.0,1318.0 L416.0,1318.0 L419.0,1318.0 L422.0,1318.0 L425.0,1318.0 L428.0,1318.0 L431.0,1318.0 L434.0,1318.0 L437.0,1318.0 L440.0,1318.0 L443.0,1318.0 L446.0,1318.0 L449.0,1318.0 L452.0,1318.0 L455.0,1318.0 L458.0,1318.0 L461.0,1318.0 L464.0,1318.0 L467.0,1318.0 L470.0,1318.0 L473.0,1318.0 L476.0,1318.0 L479.0,1318.0 L482.0,1318.0 L485.0,1318.0 L488.0,1318.0 L491.0,1318.0 L494.0,1318.0 L497.0,1318.0 L500.0,1318.0 L503.0,1318.0 L506.0,1318.0 L509.0,1318.0 L512.0,1318.0 L515.0,1317.9 L518.0,1317.9 L521.0,1317.9 L524.0,1317.9 L527.0,1317.8 L530.0,1317.8 L533.0,1317.8 L536.0,1317.7 L539.0,1317.7 L542.0,1317.6 L545.0,1317.6 L548.0,1317.5 L551.0,1317.5 L554.0,1317.4 L557.0,1317.4 L560.0,1317.3 L563.0,1317.2 L566.0,1317.2 L569.0,1317.1 L572.0,1317.1 L575.0,1317.0 L578.0,1316.9 L581.0,1316.9 L584.0,1316.8 L587.0,1316.8 L590.0,1316.7 L593.0,1316.6 L596.0,1316.6 L599.0,1316.5 L602.0,1316.5 L605.0,1316.4 L608.0,1316.3 L611.0,1316.3 L614.0,1316.2 L617.0,1316.1 L620.0,1316.1 L623.0,1316.0 L626.0,1315.9 L629.0,1315.9 L632.0,1315.8 L635.0,1315.7 L638.0,1315.6 L641.0,1315.5 L644.0,1315.5 L647.0,1315.4 L650.0,1315.3 L653.0,1315.2 L656.0,1315.1 L659.0,1315.1 L662.0,1315.0 L665.0,1314.9 L668.0,1314.8 L671.0,1314.7 L674.0,1314.7 L677.0,1314.6 L680.0,1314.5 L683.0,1314.4 L686.0,1314.3 L689.0,1314.3 L692.0,1314.2 L695.0,1314.1 L698.0,1314.0 L701.0,1314.0 L704.0,1313.9 L707.0,1313.8 L710.0,1313.8 L713.0,1313.7 L716.0,1313.6 L719.0,1313.6 L722.0,1313.5 L725.0,1313.5 L728.0,1313.4 L731.0,1313.3 L734.0,1313.3 L737.0,1313.2 L740.0,1313.2 L743.0,1313.1 L746.0,1313.0 L749.0,1313.0 L752.0,1312.9 L755.0,1312.9 L758.0,1312.8 L761.0,1312.7 L764.0,1312.7 L767.0,1312.6 L770.0,1312.5 L773.0,1312.5 L776.0,1312.4 L779.0,1312.3 L782.0,1312.3 L785.0,1312.2 L788.0,1312.1 L791.0,1312.0 L794.0,1312.0 L797.0,1311.9 L800.0,1311.8 L803.0,1311.7 L806.0,1311.7 L809.0,1311.6 L812.0,1311.5 L815.0,1311.4 L818.0,1311.4 L821.0,1311.3 L824.0,1311.2 L827.0,1311.1 L830.0,1311.0 L833.0,1310.9 L836.0,1310.9 L839.0,1310.8 L842.0,1310.7 L845.0,1310.6 L848.0,1310.5 L851.0,1310.4 L854.0,1310.4 L857.0,1310.3 L860.0,1310.2 L863.0,1310.1 L866.0,1310.0 L869.0,1309.9 L872.0,1309.8 L875.0,1309.7 L878.0,1309.6 L881.0,1309.5 L884.0,1309.5 L887.0,1309.4 L890.0,1309.3 L893.0,1309.2 L896.0,1309.1 L899.0,1309.0 L902.0,1308.9 L905.0,1308.8 L908.0,1308.7 L911.0,1308.6 L914.0,1308.5 L917.0,1308.4 L920.0,1308.3 L923.0,1308.2 L926.0,1308.1 L929.0,1308.0 L932.0,1307.9 L935.0,1307.9 L938.0,1307.8 L941.0,1307.7 L944.0,1307.6 L947.0,1307.5 L950.0,1307.4 L953.0,1307.3 L956.0,1307.2 L959.0,1307.1 L962.0,1307.0 L965.0,1306.9 L968.0,1306.8 L971.0,1306.7 L974.0,1306.6 L977.0,1306.5 L980.0,1306.4 L983.0,1306.3 L986.0,1306.2 L989.0,1306.1 L992.0,1306.0 L995.0,1305.9 L998.0,1305.8 L1001.0,1305.7 L1004.0,1305.6 L1007.0,1305.5 L1010.0,1305.4 L1013.0,1305.3 L1016.0,1305.2 L1019.0,1305.1 L1022.0,1305.0 L1025.0,1304.8 L1028.0,1304.7 L1031.0,1304.6 L1034.0,1304.5 L1037.0,1304.4 L1040.0,1304.3 L1043.0,1304.1 L1046.0,1304.0 L1049.0,1303.9 L1052.0,1303.7 L1055.0,1303.6 L1058.0,1303.5 L1061.0,1303.3 L1064.0,1303.2 L1067.0,1303.1 L1070.0,1302.9 L1073.0,1302.8 L1076.0,1302.6 L1079.0,1302.5 L1082.0,1302.3 L1085.0,1302.2 L1088.0,1302.0 L1091.0,1301.8 L1094.0,1301.6 L1097.0,1301.4 L1100.0,1301.2 L1103.0,1301.0 L1106.0,1300.7 L1109.0,1300.5 L1112.0,1300.3 L1115.0,1300.0 L1118.0,1299.8 L1121.0,1299.6 L1124.0,1299.3 L1127.0,1299.1 L1130.0,1298.9 L1133.0,1298.6 L1136.0,1298.4 L1139.0,1298.2 L1142.0,1298.0 L1145.0,1297.8 L1148.0,1297.6 L1151.0,1297.4 L1154.0,1297.3 L1157.0,1297.1 L1160.0,1296.9 L1163.0,1296.7 L1166.0,1296.6 L1169.0,1296.4 L1172.0,1296.2 L1175.0,1296.0 L1178.0,1295.8 L1181.0,1295.7 L1184.0,1295.5 L1187.0,1295.3 L1190.0,1295.1 L1193.0,1295.0 L1196.0,1294.8 L1199.0,1294.7 L1202.0,1294.5 L1205.0,1294.4 L1208.0,1294.2 L1211.0,1294.1 L1214.0,1294.0 L1217.0,1293.9 L1220.0,1293.7 L1223.0,1293.7 L1226.0,1293.6 L1229.0,1293.5 L1232.0,1293.4 L1235.0,1293.4 L1238.0,1293.3 L1241.0,1293.3 L1244.0,1293.3 L1247.0,1293.3 L1250.0,1293.2 L1253.0,1293.2 L1256.0,1293.2 L1259.0,1293.2 L1262.0,1293.2 L1265.0,1293.2 L1268.0,1293.2 L1271.0,1293.2 L1274.0,1293.1 L1277.0,1293.1 L1280.0,1293.1 L1283.0,1293.1 L1286.0,1293.1 L1289.0,1293.1 L1292.0,1293.1 L1295.0,1293.0 L1298.0,1293.0 L1301.0,1293.0 L1304.0,1292.9 L1307.0,1292.9 L1310.0,1292.8 L1313.0,1292.6 L1316.0,1292.5 L1319.0,1292.3 L1322.0,1292.2 L1325.0,1292.0 L1328.0,1291.8 L1331.0,1291.6 L1334.0,1291.4 L1337.0,1291.3 L1340.0,1291.1 L1343.0,1290.9 L1346.0,1290.8 L1349.0,1290.6 L1352.0,1290.5 L1355.0,1290.3 L1358.0,1290.2 L1361.0,1290.1 L1364.0,1289.9 L1367.0,1289.8 L1370.0,1289.6 L1373.0,1289.5 L1376.0,1289.3 L1379.0,1289.2 L1382.0,1289.0 L1385.0,1288.8 L1388.0,1288.7 L1391.0,1288.5 L1394.0,1288.2 L1397.0,1288.0 L1400.0,1287.7 L1403.0,1287.4 L1406.0,1287.0 L1409.0,1286.7 L1412.0,1286.3 L1415.0,1286.0 L1418.0,1285.7 L1421.0,1285.4 L1424.0,1285.1 L1427.0,1284.8 L1430.0,1284.6 L1433.0,1284.4 L1436.0,1284.2 L1439.0,1284.1 L1442.0,1284.0 L1445.0,1283.8 L1448.0,1283.7 L1451.0,1283.6 L1454.0,1283.4 L1457.0,1283.3 L1460.0,1283.2 L1463.0,1283.0 L1466.0,1282.8 L1469.0,1282.7 L1472.0,1282.4 L1475.0,1282.2 L1478.0,1281.9 L1481.0,1281.7 L1484.0,1281.4 L1487.0,1281.1 L1490.0,1280.7 L1493.0,1280.4 L1496.0,1280.1 L1499.0,1279.9 L1502.0,1279.6 L1505.0,1279.3 L1508.0,1279.1 L1511.0,1278.9 L1514.0,1278.7 L1517.0,1278.6 L1520.0,1278.4 L1523.0,1278.2 L1526.0,1278.1 L1529.0,1277.9 L1532.0,1277.8 L1535.0,1277.6 L1538.0,1277.4 L1541.0,1277.2 L1544.0,1277.0 L1547.0,1276.8 L1550.0,1276.5 L1553.0,1276.2 L1556.0,1275.8 L1559.0,1275.4 L1562.0,1275.0 L1565.0,1274.6 L1568.0,1274.2 L1571.0,1273.8 L1574.0,1273.4 L1577.0,1273.1 L1580.0,1272.7 L1583.0,1272.4 L1586.0,1272.1 L1589.0,1271.8 L1592.0,1271.5 L1595.0,1271.2 L1598.0,1271.0 L1601.0,1270.7 L1604.0,1270.4 L1607.0,1270.2 L1610.0,1269.9 L1613.0,1269.6 L1616.0,1269.3 L1619.0,1269.0 L1622.0,1268.7 L1625.0,1268.4 L1628.0,1268.1 L1631.0,1267.8 L1634.0,1267.5 L1637.0,1267.2 L1640.0,1266.9 L1643.0,1266.6 L1646.0,1266.3 L1649.0,1266.0 L1652.0,1265.7 L1655.0,1265.4 L1658.0,1265.1 L1661.0,1264.8 L1664.0,1264.5 L1667.0,1264.2 L1670.0,1264.0 L1673.0,1263.7 L1676.0,1263.4 L1679.0,1263.1 L1682.0,1262.7 L1685.0,1262.4 L1688.0,1262.0 L1691.0,1261.6 L1694.0,1261.1 L1697.0,1260.6 L1700.0,1260.1 L1703.0,1259.6 L1706.0,1259.1 L1709.0,1258.6 L1712.0,1258.1 L1715.0,1257.6 L1718.0,1257.2 L1721.0,1256.8 L1724.0,1256.5 L1727.0,1256.2 L1730.0,1255.9 L1733.0,1255.6 L1736.0,1255.4 L1739.0,1255.2 L1742.0,1254.9 L1745.0,1254.7 L1748.0,1254.4 L1751.0,1254.1 L1754.0,1253.8 L1757.0,1253.4 L1760.0,1253.0 L1763.0,1252.5 L1766.0,1252.0 L1769.0,1251.4 L1772.0,1250.8 L1775.0,1250.2 L1778.0,1249.6 L1781.0,1248.9 L1784.0,1248.3 L1787.0,1247.6 L1790.0,1247.0 L1793.0,1246.4 L1796.0,1245.8 L1799.0,1245.2 L1802.0,1244.5 L1805.0,1243.9 L1808.0,1243.3 L1811.0,1242.6 L1814.0,1242.0 L1817.0,1241.4 L1820.0,1240.7 L1823.0,1240.1 L1826.0,1239.6 L1829.0,1239.0 L1832.0,1238.4 L1835.0,1237.9 L1838.0,1237.4 L1841.0,1236.8 L1844.0,1236.3 L1847.0,1235.8 L1850.0,1235.3 L1853.0,1234.8 L1856.0,1234.3 L1859.0,1233.8 L1862.0,1233.3 L1865.0,1232.8 L1868.0,1232.2 L1871.0,1231.7 L1874.0,1231.2 L1877.0,1230.7 L1880.0,1230.2 L1883.0,1229.7 L1886.0,1229.2 L1889.0,1228.7 L1892.0,1228.3 L1895.0,1227.8 L1898.0,1227.4 L1901.0,1227.1 L1904.0,1226.7 L1907.0,1226.4 L1910.0,1226.0 L1913.0,1225.6 L1916.0,1225.1 L1919.0,1224.6 L1922.0,1224.0 L1925.0,1223.2 L1928.0,1221.8 L1931.0,1220.2 L1934.0,1218.9 L1937.0,1218.0 L1940.0,1217.1 L1943.0,1216.4 L1946.0,1215.7 L1949.0,1215.0 L1952.0,1214.4 L1955.0,1213.7 L1958.0,1213.1 L1961.0,1212.5 L1964.0,1211.9 L1967.0,1211.2 L1970.0,1210.5 L1973.0,1209.9 L1976.0,1209.3 L1979.0,1208.7 L1982.0,1208.1 L1985.0,1207.4 L1988.0,1206.8 L1991.0,1206.1 L1994.0,1205.4 L1997.0,1204.6 L2000.0,1203.9 L2003.0,1203.1 L2006.0,1202.3 L2009.0,1201.4 L2012.0,1200.6 L2015.0,1199.7 L2018.0,1198.7 L2021.0,1197.8 L2024.0,1196.8 L2027.0,1195.7 L2030.0,1194.6 L2033.0,1193.4 L2036.0,1192.0 L2039.0,1190.7 L2042.0,1189.2 L2042.1,1189.2" stroke="#008000"/></g><rect x="297.8" y="61.2" width="3.2" height="1430.5" fill="#b0b0b0"/><rect x="306.2" y="61.2" width="3.1" height="1430.5" fill="#858585"/><rect x="2247.1" y="61.2" width="2.8" height="1411.2" fill="#969696"/><rect x="2255.5" y="61.2" width="2.4" height="1411.2" fill="#969696"/><rect x="306.2" y="1462.2" width="1940.9" height="2.4" fill="#d8d8d8"/><rect x="301.0" y="1470.0" width="1954.5" height="2.4" fill="#555555"/><rect x="732.1" y="1470.0" width="2.7" height="21.0" fill="#999999"/><rect x="740.0" y="1470.0" width="2.7" height="21.0" fill="#999999"/><rect x="1165.1" y="1470.0" width="2.7" height="21.0" fill="#999999"/><rect x="1173.0" y="1470.0" width="2.7" height="21.0" fill="#999999"/><rect x="1598.2" y="1470.0" width="2.7" height="21.0" fill="#999999"/><rect x="1606.0" y="1470.0" width="2.7" height="21.0" fill="#999999"/><rect x="2031.2" y="1470.0" width="2.7" height="21.0" fill="#999999"/><rect x="2039.1" y="1470.0" width="2.7" height="21.0" fill="#999999"/><rect x="301.0" y="61.2" width="5.2" height="1430.5" fill="#000"/><rect x="2249.9" y="61.2" width="5.6" height="1408.8" fill="#000"/><rect x="282.0" y="61.2" width="1973.5" height="7.0" fill="#000"/><rect x="301.0" y="1464.6" width="1954.5" height="5.4" fill="#000"/><rect x="282.0" y="311.2" width="19.0" height="8.0" fill="#000"/><rect x="282.0" y="561.9" width="19.0" height="8.0" fill="#000"/><rect x="282.0" y="812.6" width="19.0" height="8.0" fill="#000"/><rect x="282.0" y="1063.3" width="19.0" height="8.0" fill="#000"/><rect x="282.0" y="1314.0" width="19.0" height="8.0" fill="#000"/><rect x="734.8" y="1470.0" width="5.2" height="21.7" fill="#000"/><rect x="1167.8" y="1470.0" width="5.2" height="21.7" fill="#000"/><rect x="1600.9" y="1470.0" width="5.2" height="21.7" fill="#000"/><rect x="2033.9" y="1470.0" width="5.2" height="21.7" fill="#000"/><g font-family="Liberation Sans, Arial, sans-serif" font-weight="bold" font-size="55" fill="#000"><text x="256.5" y="83.8" text-anchor="end" font-size="56.5" textLength="107.5" lengthAdjust="spacingAndGlyphs">0.25</text><text x="256.5" y="334.5" text-anchor="end" font-size="56.5" textLength="107.5" lengthAdjust="spacingAndGlyphs">0.20</text><text x="256.5" y="585.2" text-anchor="end" font-size="56.5" textLength="107.5" lengthAdjust="spacingAndGlyphs">0.15</text><text x="256.5" y="835.9" text-anchor="end" font-size="56.5" textLength="107.5" lengthAdjust="spacingAndGlyphs">0.10</text><text x="256.5" y="1086.6" text-anchor="end" font-size="56.5" textLength="107.5" lengthAdjust="spacingAndGlyphs">0.05</text><text x="256.5" y="1337.3" text-anchor="end" font-size="56.5" textLength="107.5" lengthAdjust="spacingAndGlyphs">0.00</text><text x="304.3" y="1565" text-anchor="middle" textLength="33.4" lengthAdjust="spacingAndGlyphs">0</text><text x="737.4" y="1565" text-anchor="middle" textLength="61.2" lengthAdjust="spacingAndGlyphs">10</text><text x="1170.4" y="1565" text-anchor="middle" textLength="65.5" lengthAdjust="spacingAndGlyphs">20</text><text x="1603.5" y="1565" text-anchor="middle" textLength="64.1" lengthAdjust="spacingAndGlyphs">30</text><text x="2036.5" y="1565" text-anchor="middle" textLength="67.2" lengthAdjust="spacingAndGlyphs">40</text></g><g font-family="Liberation Sans, Arial, sans-serif" font-weight="bold" font-size="70" fill="#000"><text x="1277.2" y="1691" text-anchor="middle" textLength="311.4" lengthAdjust="spacingAndGlyphs">Strain (%)</text><text transform="translate(85,766.8) rotate(-90)" text-anchor="middle" textLength="404.7" lengthAdjust="spacingAndGlyphs">Stress (MPa)</text></g><g font-family="Liberation Sans, Arial, sans-serif" font-size="44" fill="#000"><line x1="361.5" y1="166.6" x2="462.5" y2="166.6" stroke="#800000" stroke-width="11.6" stroke-linecap="round"/><text x="484" y="177">SC</text><text x="542.5" y="191.5" font-size="32" textLength="44.8" lengthAdjust="spacingAndGlyphs">6.6</text><line x1="361.5" y1="239.8" x2="462.5" y2="239.8" stroke="#ff0000" stroke-width="11.6" stroke-linecap="round"/><text x="484" y="248">SC</text><text x="545.0" y="262.5" font-size="32" textLength="55.5" lengthAdjust="spacingAndGlyphs">13.2</text><line x1="361.5" y1="310.7" x2="462.5" y2="310.7" stroke="#0000ff" stroke-width="11.6" stroke-linecap="round"/><text x="484" y="318.2">SC</text><text x="542.5" y="332.7" font-size="32" textLength="58.2" lengthAdjust="spacingAndGlyphs">26.4</text><line x1="361.5" y1="381.6" x2="462.5" y2="381.6" stroke="#008000" stroke-width="11.6" stroke-linecap="round"/><text x="484" y="389">SC</text><text x="544.2" y="403.5" font-size="32" textLength="56.8" lengthAdjust="spacingAndGlyphs">52.8</text></g></svg>
</body></html>
